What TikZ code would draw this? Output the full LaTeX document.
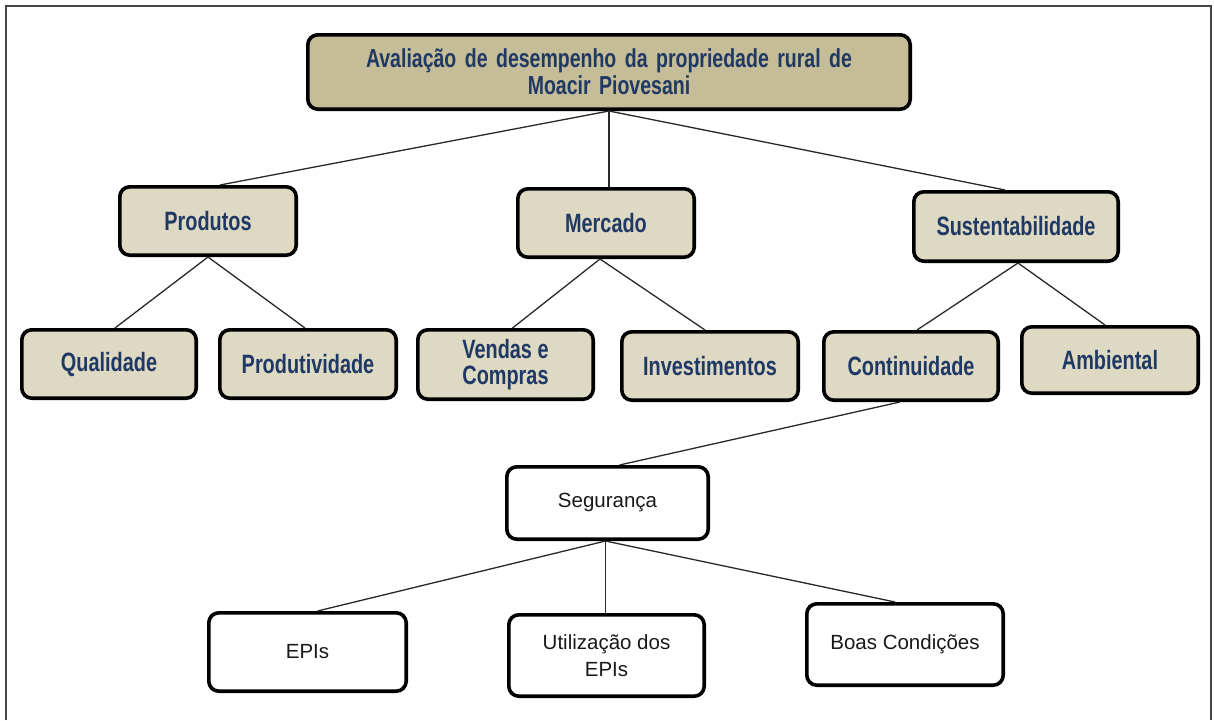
\documentclass[tikz,border=0pt]{standalone}
\usepackage{fontspec}
\setmainfont{Liberation Sans}
\newfontfamily\narrowfont{Liberation Sans}[FakeStretch=0.75]
\usetikzlibrary{calc}
\definecolor{titlefill}{RGB}{196,189,151}
\definecolor{itemfill}{RGB}{221,217,195}
\definecolor{labelblue}{RGB}{31,56,100}
\definecolor{linkgray}{RGB}{40,40,40}
\definecolor{framegray}{RGB}{70,70,70}
\newcommand{\widewords}{\spaceskip=8.5pt plus 2pt\relax}
\tikzset{
  x=1pt, y=-1pt,
  basebox/.style={draw=black, line width=3.6pt, rounded corners=10pt,
    inner sep=2pt, align=center},
  tanbox/.style={basebox, fill=itemfill, text=labelblue,
    font=\narrowfont\bfseries\fontsize{26.5}{26}\selectfont},
  titlebox/.style={tanbox, fill=titlefill,
    font=\narrowfont\bfseries\fontsize{26}{27}\selectfont\widewords},
  plainbox/.style={basebox, fill=white, text=black!90,
    font=\fontsize{20.5}{27}\selectfont},
  link/.style={draw=linkgray, line width=1.3pt},
}
\newcommand{\boxat}[7]{% name, style, x1, y1, x2, y2, text
  \node[#2, minimum width={#5-#3-3.6}, minimum height={#6-#4-3.6}]
    (#1) at ({(#3+#5)/2},{(#4+#6)/2}) {#7};}
\begin{document}
\begin{tikzpicture}
\useasboundingbox (0,0) rectangle (1214,720);
% open frame
\draw[framegray, line width=2pt] (6,720) -- (6,6) -- (1211,6) -- (1211,720);

% level 0
\boxat{root}{titlebox}{306}{33}{912}{111}{Avaliação de desempenho da propriedade rural de\\Moacir Piovesani}
% level 1
\boxat{prod}{tanbox}{118}{185}{298}{257}{Produtos}
\boxat{merc}{tanbox}{516}{187}{696}{259}{Mercado}
\boxat{sust}{tanbox}{912}{190}{1120}{263}{Sustentabilidade}
% level 2
\boxat{qual}{tanbox}{20}{328}{198}{400}{Qualidade}
\boxat{prodv}{tanbox}{218}{328}{398}{400}{Produtividade}
\boxat{vend}{tanbox}{416}{328}{595}{401}{Vendas e\\Compras}
\boxat{inv}{tanbox}{620}{330}{800}{402}{Investimentos}
\boxat{cont}{tanbox}{822}{330}{1000}{402}{Continuidade}
\boxat{amb}{tanbox}{1020}{325}{1200}{395}{Ambiental}
% level 3
\boxat{seg}{plainbox}{505}{465}{710}{541}{Segurança}
% level 4
\boxat{epi}{plainbox}{207}{611}{408}{693}{EPIs}
\boxat{util}{plainbox}{507}{613}{706}{698}{Utilização dos\\EPIs}
\boxat{boas}{plainbox}{805}{602}{1005}{687}{Boas Condições}

% connectors
\draw[link] (root.south) -- ([xshift=12pt]prod.north);
\draw[link] (root.south) -- ([xshift=3pt]merc.north);
\draw[link] (root.south) -- ([xshift=-11pt]sust.north);
\draw[link] (prod.south) -- ([xshift=6pt]qual.north);
\draw[link] (prod.south) -- ([xshift=-3pt]prodv.north);
\draw[link] ([xshift=-6pt]merc.south) -- ([xshift=7pt]vend.north);
\draw[link] ([xshift=-6pt]merc.south) -- ([xshift=-5pt]inv.north);
\draw[link] ([xshift=2pt]sust.south) -- ([xshift=6pt]cont.north);
\draw[link] ([xshift=2pt]sust.south) -- ([xshift=-5pt]amb.north);
\draw[link] ([xshift=-11pt]cont.south) -- ([xshift=12pt]seg.north);
\draw[link] ([xshift=-2pt]seg.south) -- ([xshift=10pt]epi.north);
\draw[link] ([xshift=-2pt]seg.south) -- ([xshift=-1pt]util.north);
\draw[link] ([xshift=-2pt]seg.south) -- ([xshift=-10pt]boas.north);
\end{tikzpicture}
\end{document}
